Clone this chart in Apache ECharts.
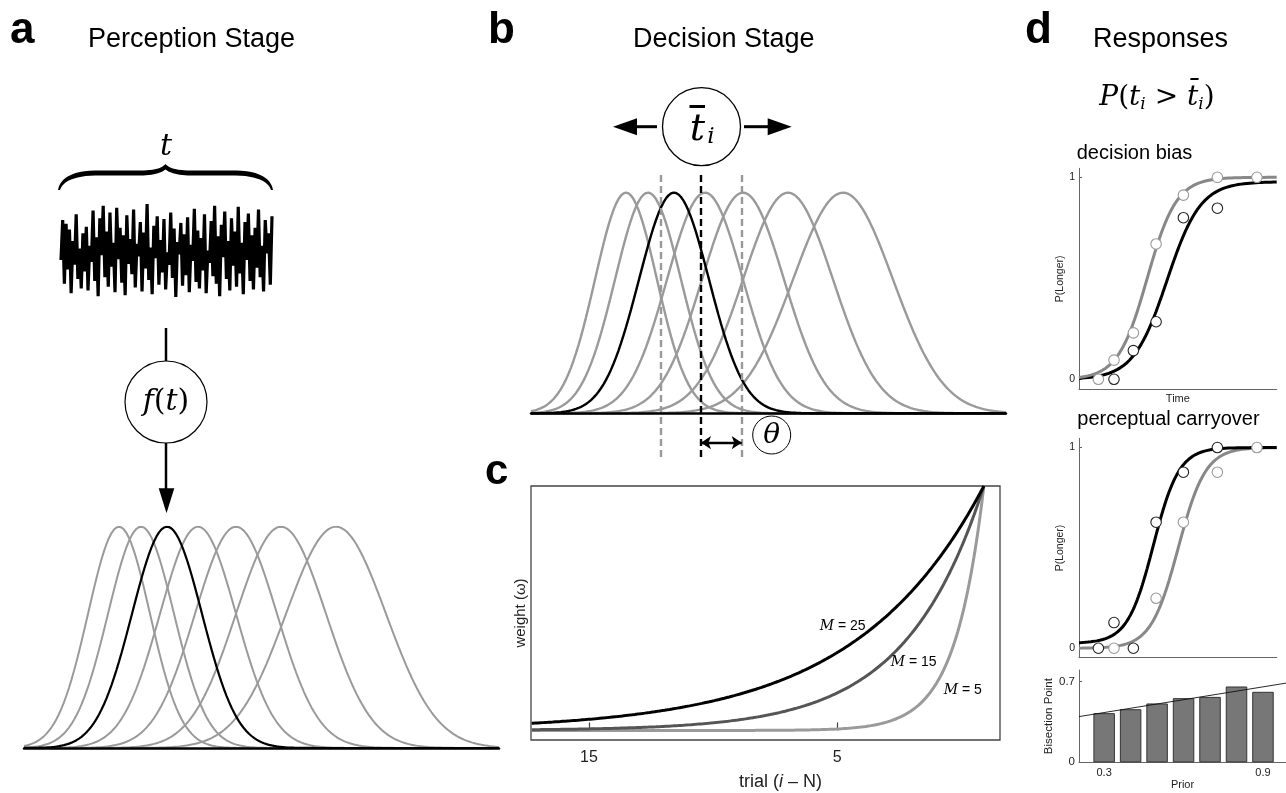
<!DOCTYPE html>
<html>
<head>
<meta charset="utf-8">
<script src="https://cdn.jsdelivr.net/npm/echarts@6/dist/echarts.min.js"></script>
<style>
  html, body { margin: 0; padding: 0; background: #fff; }
  #fig { width: 1286px; height: 793px; }
</style>
</head>
<body>
<div id="fig"></div>
<script>
// ---------------- data ----------------
// Gaussian duration-tuning channels (shared by the perception and decision stages)
const tuningCenters = [95, 117, 143, 174, 212, 257, 312];
const tuningWidths  = [31, 33, 35, 38, 41, 45, 50];
const highlightedChannel = 2;
const timeSpan = [0, 475];

// decision stage: running criterion and tolerance
const criterion = 170;
const theta = 40.7;

// recorded stimulus trace (arbitrary units, 0 = bottom, 1 = top)
const noiseTrace = [
  0.40,0.82,0.15,0.78,0.30,0.72,0.05,0.60,0.35,0.88,0.20,0.52,0.10,0.68,0.28,0.75,
  0.08,0.55,0.38,0.92,0.18,0.64,0.02,0.84,0.45,0.97,0.22,0.70,0.12,0.90,0.33,0.58,
  0.06,0.95,0.41,0.74,0.16,0.66,0.03,0.87,0.36,0.62,0.25,0.93,0.11,0.57,0.44,0.80,
  0.07,0.69,0.31,0.99,0.19,0.53,0.04,0.76,0.42,0.86,0.14,0.61,0.27,0.83,0.09,0.48,
  0.35,0.90,0.21,0.73,0.01,0.59,0.46,0.79,0.13,0.67,0.24,0.85,0.06,0.56,0.39,0.94,
  0.17,0.71,0.10,0.63,0.29,0.88,0.05,0.50,0.37,0.81,0.23,0.97,0.15,0.65,0.02,0.77,
  0.43,0.91,0.20,0.60,0.08,0.84,0.34,0.70,0.12,0.96,0.26,0.58,0.04,0.80,0.40,0.89,
  0.18,0.66,0.09,0.74,0.32,0.93,0.22,0.55,0.07,0.82,0.47,0.68,0.14,0.86
];

// trial-history weighting: memory length M and the matching decay constant
const memoryLabels   = ['25', '15', '5'];
const decayConstants = [5.16, 3.15, 1.16];
const memoryColors   = ['#000000', '#555555', '#9a9a9a'];
const trialStart = -0.9;            // lag at which every weight reaches 1
const trialAxis  = [-1.55, 17.33];  // visible lag range
const trialTicks = [15, 5];

// psychometric data (normalised stimulus time)
const stimTimes   = [0.098, 0.177, 0.275, 0.39, 0.528, 0.70, 0.90];
const biasGray    = [0, 0.095, 0.23, 0.67, 0.912, 1.0, 1.0];
const biasBlack   = [null, 0, 0.142, 0.285, 0.80, 0.847, null];
const carryGray   = [null, 0, null, 0.249, 0.628, 0.877, 1.0];
const carryBlack  = [0, 0.128, 0, 0.628, 0.877, 1.0, null];
// logistic fits: [midpoint, scale, floor, ceiling]
const biasFitGray   = [0.345, 0.074, 0, 1];
const biasFitBlack  = [0.445, 0.085, 0, 0.978];
const carryFitBlack = [0.376, 0.065, 0.025, 1];
const carryFitGray  = [0.502, 0.069, 0, 1];

// bisection point as a function of prior
const priors    = [0.3, 0.4, 0.5, 0.6, 0.7, 0.8, 0.9];
const bisection = [0.426, 0.46, 0.51, 0.556, 0.567, 0.657, 0.611];
const bisectionFit = [0.320, 0.371];   // intercept, slope
const priorAxis = [0.205, 0.987];
const priorTicks = [0.3, 0.9];

// ---------------- helpers ----------------
const SANS  = "'Liberation Sans', Arial, Helvetica, sans-serif";
const SERIF = "'DejaVu Serif', 'Liberation Serif', serif";

function gauss(x, c, s) { return Math.exp(-0.5 * ((x - c) / s) ** 2); }
function psychometric(x, fit) {
  const [mu, s, lo, hi] = fit;
  return lo + (hi - lo) / (1 + Math.exp(-(x - mu) / s));
}
function recencyWeight(k, tau) { return Math.exp(-(k - trialStart) / tau); }
function steps(a, b, step) {
  const out = [];
  for (let v = a; v <= b + 1e-9; v += step) out.push(+v.toFixed(4));
  return out;
}

const tuningX = steps(timeSpan[0], timeSpan[1], 2.5);
const lagX = steps(trialStart, trialAxis[1], 0.05);
const psyX = steps(0, 1, 0.005);

function tuningSeries(axisIdx, grayW, blackW) {
  return tuningCenters.map((c, i) => ({
    type: 'line', xAxisIndex: axisIdx, yAxisIndex: axisIdx, silent: true,
    symbol: 'none', animation: false,
    data: tuningX.map(x => [x, gauss(x, c, tuningWidths[i])]),
    lineStyle: { color: i === highlightedChannel ? '#000' : '#9a9a9a',
                 width: i === highlightedChannel ? blackW : grayW },
    z: i === highlightedChannel ? 4 : 3
  }));
}

function points(values) {
  return stimTimes.map((t, i) => values[i] == null ? null : [t, values[i]]).filter(p => p);
}
function fitCurve(fit) { return psyX.map(x => [x, psychometric(x, fit)]); }

const off = { show: false };
function bareAxis(idx, extra) {
  return Object.assign({
    gridIndex: idx, type: 'value', axisLine: off, axisTick: off,
    axisLabel: off, splitLine: off
  }, extra || {});
}

const dAxisLine = { show: true, onZero: false, lineStyle: { color: '#666', width: 1 } };
function dYAxis(idx, min, max, ticks, name, gap, fs) {
  return {
    gridIndex: idx, type: 'value', min, max,
    axisLine: dAxisLine, splitLine: off,
    axisTick: { show: true, inside: true, length: 3, customValues: ticks, lineStyle: { color: '#666' } },
    axisLabel: { show: true, customValues: ticks, fontSize: fs, margin: 4, color: '#222', fontFamily: SANS },
    name, nameLocation: 'middle', nameRotate: 90, nameGap: gap,
    nameTextStyle: { fontSize: fs, color: '#222', fontFamily: SANS }
  };
}

// ---------------- option ----------------
const grids = [
  { left: 24,   top: 526.7, width: 475,   height: 221.3 },  // a: tuning channels
  { left: 61,   top: 203,   width: 211,   height: 95 },     // a: stimulus trace
  { left: 531,  top: 171.7, width: 475,   height: 285.3 },  // b: decision stage
  { left: 531,  top: 486,   width: 469,   height: 254, show: true, borderColor: '#444', borderWidth: 1.3 }, // c
  { left: 1079, top: 168.3, width: 197.7, height: 221 },    // d: decision bias
  { left: 1079, top: 438.3, width: 197.7, height: 219.4 },  // d: perceptual carryover
  { left: 1079, top: 670,   width: 207,   height: 92.3 }    // d: bisection point
];

const xAxes = [
  bareAxis(0, { min: timeSpan[0], max: timeSpan[1], z: 5,
    axisLine: { show: true, onZero: false, lineStyle: { color: '#000', width: 2.5 } } }),
  bareAxis(1, { min: 0, max: noiseTrace.length - 1 }),
  bareAxis(2, { min: timeSpan[0], max: timeSpan[1], z: 5,
    axisLine: { show: true, onZero: true, lineStyle: { color: '#000', width: 2.5 } } }),
  {
    gridIndex: 3, type: 'value', inverse: true, min: trialAxis[0], max: trialAxis[1],
    axisLine: off, splitLine: off,
    axisTick: { show: true, inside: true, length: 8, customValues: trialTicks, lineStyle: { color: '#444', width: 1.2 } },
    axisLabel: { show: true, customValues: trialTicks, fontSize: 16, margin: 10, color: '#222', fontFamily: SANS },
    name: 'trial ({it|i} – N)', nameLocation: 'middle', nameGap: 33,
    nameTextStyle: { fontSize: 18, color: '#222', fontFamily: SANS, padding: [0, 0, 0, 30],
      rich: { it: { fontSize: 18, fontStyle: 'italic', fontFamily: SANS, color: '#222' } } }
  },
  {
    gridIndex: 4, type: 'value', min: 0, max: 1, axisLine: dAxisLine, axisTick: off,
    axisLabel: off, splitLine: off, name: 'Time', nameLocation: 'middle', nameGap: 4,
    nameTextStyle: { fontSize: 11, color: '#222', fontFamily: SANS }
  },
  { gridIndex: 5, type: 'value', min: 0, max: 1, axisLine: dAxisLine, axisTick: off, axisLabel: off, splitLine: off },
  {
    gridIndex: 6, type: 'value', min: priorAxis[0], max: priorAxis[1], axisLine: dAxisLine,
    axisTick: off, splitLine: off,
    axisLabel: { show: true, customValues: priorTicks, fontSize: 11, margin: 5, color: '#222', fontFamily: SANS },
    name: 'Prior', nameLocation: 'middle', nameGap: 14,
    nameTextStyle: { fontSize: 11, color: '#222', fontFamily: SANS }
  }
];

const yAxes = [
  bareAxis(0, { min: 0, max: 1 }),
  bareAxis(1, { min: 0, max: 1 }),
  bareAxis(2, { min: -0.198, max: 1.095 }),
  bareAxis(3, { min: -0.039, max: 1.0, name: 'weight (ω)', nameLocation: 'middle', nameRotate: 90, nameGap: 3,
    nameTextStyle: { fontSize: 15, color: '#222', fontFamily: SANS } }),
  dYAxis(4, -0.0495, 1.0446, [0, 1], 'P(Longer)', 12, 10.5),
  dYAxis(5, -0.047, 1.046, [0, 1], 'P(Longer)', 12, 10.5),
  dYAxis(6, 0, 0.80, [0, 0.7], 'Bisection Point', 23, 11.5)
];

const series = [];
// a: channels and stimulus trace
series.push(...tuningSeries(0, 2, 2.2));
series.push({
  type: 'line', xAxisIndex: 1, yAxisIndex: 1, silent: true, symbol: 'none',
  data: noiseTrace.map((v, i) => [i, v]),
  lineStyle: { color: '#000', width: 3.2, join: 'miter' }
});
// b: channels, criterion and tolerance markers
series.push(...tuningSeries(2, 2.4, 2.4));
const dashTop = 1.095, dashBottom = -0.198, arrowY = -0.133;
series.push({
  type: 'line', xAxisIndex: 2, yAxisIndex: 2, silent: true, data: [], z: 6,
  markLine: {
    silent: true, symbol: 'none', label: off, animation: false,
    data: [
      [{ coord: [criterion - theta, dashBottom], lineStyle: { color: '#999', width: 2.4, type: [7, 4] } },
       { coord: [criterion - theta, dashTop] }],
      [{ coord: [criterion + theta, dashBottom], lineStyle: { color: '#999', width: 2.4, type: [7, 4] } },
       { coord: [criterion + theta, dashTop] }],
      [{ coord: [criterion, dashBottom], lineStyle: { color: '#000', width: 2.4, type: [7, 4] } },
       { coord: [criterion, dashTop] }]
    ]
  }
});
series.push({
  type: 'line', xAxisIndex: 2, yAxisIndex: 2, silent: true, data: [], z: 6,
  markLine: {
    silent: true, symbol: ['arrow', 'arrow'], symbolSize: 10, label: off, animation: false,
    lineStyle: { color: '#000', width: 2.4, type: 'solid' },
    data: [[{ coord: [criterion, arrowY] }, { coord: [criterion + theta, arrowY] }]]
  }
});
// c: recency weights
memoryLabels.forEach((m, i) => {
  series.push({
    type: 'line', xAxisIndex: 3, yAxisIndex: 3, silent: true, symbol: 'none',
    data: lagX.map(k => [k, recencyWeight(k, decayConstants[i])]),
    lineStyle: { color: memoryColors[i], width: 3 }, z: 5 - i
  });
});
// d: psychometric functions
function psySeries(idx, fit, pts, color, onTop) {
  return [
    { type: 'line', xAxisIndex: idx, yAxisIndex: idx, silent: true, symbol: 'none',
      data: fitCurve(fit), lineStyle: { color, width: 3 }, z: 2 },
    { type: 'scatter', xAxisIndex: idx, yAxisIndex: idx, silent: true, symbol: 'circle', symbolSize: 10.5,
      data: points(pts), z: onTop ? 6 : 5,
      itemStyle: { color: '#fff', borderColor: color === '#000' ? '#222' : '#999', borderWidth: 1.1, opacity: 1 } }
  ];
}
series.push(...psySeries(4, biasFitBlack, biasBlack, '#000', false));
series.push(...psySeries(4, biasFitGray, biasGray, '#888', true));
series.push(...psySeries(5, carryFitGray, carryGray, '#888', false));
series.push(...psySeries(5, carryFitBlack, carryBlack, '#000', true));
// d: bisection points and linear trend
series.push({
  type: 'bar', xAxisIndex: 6, yAxisIndex: 6, silent: true, barWidth: 21.5,
  data: priors.map((p, i) => [p, bisection[i]]),
  itemStyle: { color: '#777', borderColor: '#333', borderWidth: 1 }
});
series.push({
  type: 'line', xAxisIndex: 6, yAxisIndex: 6, silent: true, symbol: 'none', z: 5,
  data: priorAxis.map(p => [p, bisectionFit[0] + bisectionFit[1] * p]),
  lineStyle: { color: '#111', width: 0.9 }
});

// ---------------- annotations ----------------
function txt(x, y, text, style) {
  return { type: 'text', x, y, z: 100, silent: true,
    style: Object.assign({ text, fill: '#000', fontFamily: SANS, align: 'left', verticalAlign: 'middle' }, style) };
}
function seg(x1, y1, x2, y2, w, color) {
  return { type: 'line', z: 100, silent: true, shape: { x1, y1, x2, y2 },
    style: { stroke: color || '#000', lineWidth: w } };
}
function ring(cx, cy, r, w) {
  return { type: 'circle', z: 99, silent: true, shape: { cx, cy, r },
    style: { fill: '#fff', stroke: '#000', lineWidth: w } };
}
function tri(pts) {
  return { type: 'polygon', z: 100, silent: true, shape: { points: pts }, style: { fill: '#000' } };
}
// outline of a curly brace, traced from cubic segments
function bezierOutline(start, segments) {
  const pts = [start];
  let p0 = start;
  segments.forEach(sgm => {
    if (sgm.length === 1) { pts.push(sgm[0]); p0 = sgm[0]; return; }
    const [c1, c2, p3] = sgm;
    for (let k = 1; k <= 12; k++) {
      const t = k / 12, u = 1 - t;
      pts.push([
        u*u*u*p0[0] + 3*u*u*t*c1[0] + 3*u*t*t*c2[0] + t*t*t*p3[0],
        u*u*u*p0[1] + 3*u*u*t*c1[1] + 3*u*t*t*c2[1] + t*t*t*p3[1]
      ]);
    }
    p0 = p3;
  });
  return pts;
}
const braceOutline = bezierOutline([58, 190], [
  [[60, 178], [72, 171], [95, 170.5]], [[140, 170.5]],
  [[155, 170.5], [162, 168], [165.5, 164]],
  [[169, 168], [176, 170.5], [191, 170.5]], [[236, 170.5]],
  [[259, 171], [271, 178], [273, 190]], [[271, 190]],
  [[268, 181], [256, 176], [236, 175.5]], [[191, 175.5]],
  [[178, 175.5], [170, 173], [165.5, 169.5]],
  [[161, 173], [153, 175.5], [140, 175.5]], [[95, 175.5]],
  [[75, 176], [63, 181], [60, 190]]
]);

const graphic = [
  // panel letters and headings
  txt(10, 31, 'a', { fontSize: 44, fontWeight: 'bold' }),
  txt(88, 39.5, 'Perception Stage', { fontSize: 27 }),
  txt(488, 31, 'b', { fontSize: 44, fontWeight: 'bold' }),
  txt(633, 39.5, 'Decision Stage', { fontSize: 27 }),
  txt(485, 472, 'c', { fontSize: 42, fontWeight: 'bold' }),
  txt(1025, 31, 'd', { fontSize: 44, fontWeight: 'bold' }),
  txt(1093, 39.5, 'Responses', { fontSize: 27 }),
  txt(1157, 98, '{i|P}({i|t}{s|i} > {i|t̄}{s|i})', {
    fontSize: 28, fontFamily: SERIF, align: 'center',
    rich: { i: { fontSize: 28, fontFamily: SERIF, fontStyle: 'italic' },
            s: { fontSize: 17, fontFamily: SERIF, fontStyle: 'italic', padding: [13, 0, 0, 0] } } }),

  // a: brace over the stimulus trace
  { type: 'polygon', z: 100, silent: true, shape: { points: braceOutline }, style: { fill: '#000' } },
  txt(166, 147.5, 't', { fontSize: 30, fontFamily: SERIF, fontStyle: 'italic', align: 'center' }),
  // a: encoding stage
  seg(166, 328, 166, 361, 2.5),
  ring(166, 402, 41, 1.2),
  txt(166, 402, '{i|f}({i|t})', { fontSize: 30, fontFamily: SERIF, align: 'center',
    rich: { i: { fontSize: 30, fontFamily: SERIF, fontStyle: 'italic' } } }),
  seg(166, 443, 166, 490, 2.5),
  tri([[158.7, 488.3], [174.3, 488.3], [166.5, 513.3]]),

  // b: criterion node with arrows
  seg(657, 126.7, 630, 126.7, 3),
  tri([[613, 126.7], [637, 118.2], [637, 135.2]]),
  seg(744, 126.7, 770, 126.7, 3),
  tri([[791.7, 126.7], [767.7, 118.2], [767.7, 135.2]]),
  ring(701.5, 126.7, 39, 1.3),
  txt(697.5, 130, 't', { fontSize: 38, fontFamily: SERIF, fontStyle: 'italic', align: 'center' }),
  txt(711, 137, 'i', { fontSize: 23, fontFamily: SERIF, fontStyle: 'italic', align: 'center' }),
  seg(689.5, 106.5, 705, 106.5, 3),
  // b: tolerance label
  ring(771.7, 435, 19, 1),
  txt(771.7, 436, 'θ', { fontSize: 28, fontFamily: SERIF, fontStyle: 'italic', align: 'center' }),

  // c: memory-length labels
  txt(842.7, 626, '{m|M} = ' + memoryLabels[0], { fontSize: 14, align: 'center',
    rich: { m: { fontSize: 14, fontFamily: SERIF, fontStyle: 'italic' } } }),
  txt(913.6, 662, '{m|M} = ' + memoryLabels[1], { fontSize: 14, align: 'center',
    rich: { m: { fontSize: 14, fontFamily: SERIF, fontStyle: 'italic' } } }),
  txt(962.7, 690, '{m|M} = ' + memoryLabels[2], { fontSize: 14, align: 'center',
    rich: { m: { fontSize: 14, fontFamily: SERIF, fontStyle: 'italic' } } }),

  // d: sub-panel titles
  txt(1076.7, 153.5, 'decision bias', { fontSize: 20 }),
  txt(1077.3, 419.7, 'perceptual carryover', { fontSize: 20 })
];

const chart = echarts.init(document.getElementById('fig'), null, { renderer: 'canvas' });
chart.setOption({
  animation: false,
  backgroundColor: '#fff',
  grid: grids,
  xAxis: xAxes,
  yAxis: yAxes,
  series,
  graphic
});
</script>
</body>
</html>
